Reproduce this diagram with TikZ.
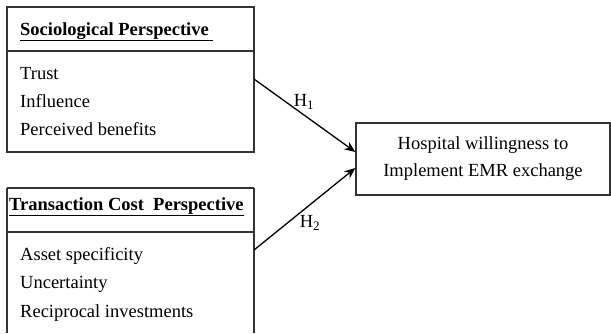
\documentclass[tikz,border=0pt]{standalone}
\usepackage{fontspec}
\setmainfont{Liberation Serif}
\usetikzlibrary{arrows.meta}
\begin{document}
\begin{tikzpicture}[x=1pt,y=-1pt,
  boxline/.style={draw=black!80, line width=1.3pt},
  itemtxt/.style={anchor=base west, inner sep=0pt, font=\fontsize{18.5}{20}\selectfont},
  headtxt/.style={anchor=base west, inner sep=0pt, font=\fontsize{18.5}{20}\selectfont\bfseries},
  arr/.style={line width=1.3pt, -{Stealth[length=11pt,width=9pt]}},
  hlab/.style={inner sep=0pt, font=\fontsize{18.5}{20}\selectfont}]
\useasboundingbox (0,0) rectangle (611,333);
% top box
\draw[boxline] (7,7) rectangle (254,152);
\draw[boxline] (7,51) -- (254,51);
\node[headtxt] (sh) at (20,35) {\underline{Sociological Perspective\ }};
\node[itemtxt] (t1) at (20,79) {Trust};
\node[itemtxt] (t2) at (20,107) {Influence};
\node[itemtxt] (t3) at (20,135) {Perceived benefits};
% bottom box
\draw[boxline] (7,188) -- (7,333);
\draw[boxline] (254,188) -- (254,333);
\draw[boxline] (7,188) -- (254,188);
\draw[boxline] (7,232) -- (254,232);
\node[headtxt] (th) at (9,210) {\underline{Transaction Cost\ \ Perspective}};
\node[itemtxt] (b1) at (20,260) {Asset specificity};
\node[itemtxt] (b2) at (20,288) {Uncertainty};
\node[itemtxt] (b3) at (20,317) {Reciprocal investments};
% right box
\node[boxline, minimum width=254pt, minimum height=72pt, inner sep=0pt, align=center,
  font=\fontsize{18.5}{27}\selectfont] (hw) at (483,159) {Hospital willingness to\\Implement EMR exchange};
\coordinate (s1) at (254,79);
\coordinate (s2) at (254,250);
\draw[arr] (s1) -- (hw.west |- 0,152);
\draw[arr] (s2) -- (hw.west |- 0,168);
\node[hlab] (h1) at (304,102) {H\textsubscript{1}};
\node[hlab] (h2) at (310,223) {H\textsubscript{2}};
\end{tikzpicture}
\end{document}
